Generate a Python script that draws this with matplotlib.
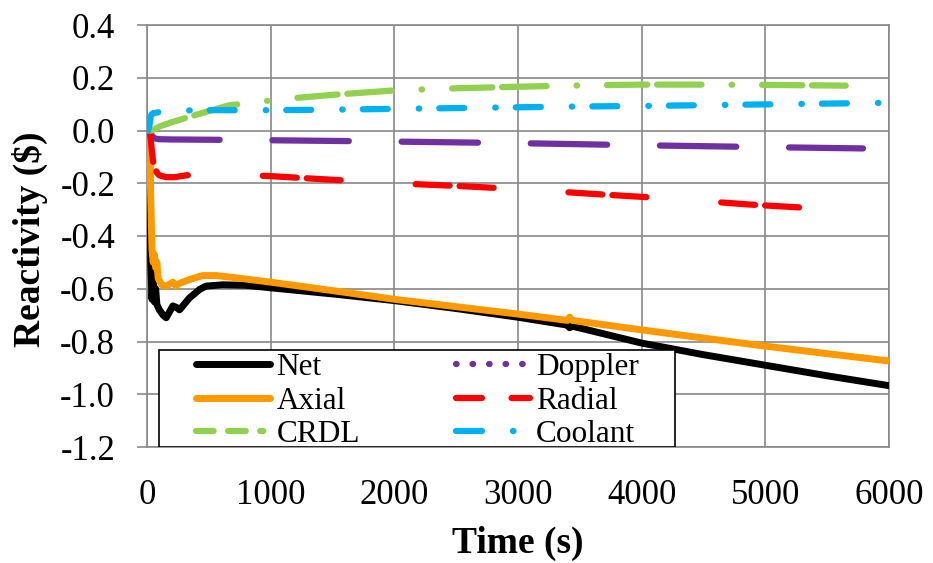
import matplotlib
matplotlib.use("Agg")
import matplotlib.pyplot as plt
from matplotlib.lines import Line2D
from matplotlib.patches import Rectangle

plt.rcParams['font.family'] = ['Liberation Serif', 'DejaVu Serif']
plt.rcParams['lines.scale_dashes'] = False

# ---------------- data ----------------
t_net = [0, 20, 30, 40, 50, 60, 70, 80, 100, 130, 155, 209, 235, 263, 343, 424, 477, 611,
         800, 1013, 1550, 2000, 2500, 3000, 3400, 3417, 3440, 4000, 4500, 5000, 5500, 6000]
net = [0.0, -0.02, -0.50, -0.64, -0.55, -0.65, -0.60, -0.66, -0.68, -0.70, -0.71, -0.665, -0.67,
       -0.68, -0.635, -0.603, -0.59, -0.585, -0.587, -0.597, -0.622, -0.645, -0.675, -0.708,
       -0.738, -0.748, -0.742, -0.806, -0.85, -0.89, -0.93, -0.9675]

t_axial = [0, 20, 30, 40, 50, 60, 70, 80, 90, 100, 120, 155, 210, 236, 260, 343, 450, 560,
           745, 1000, 1500, 2000, 2500, 3000, 3400, 3417, 3440, 4000, 4500, 5000, 5500, 6000]
axial = [0.0, -0.02, -0.25, -0.45, -0.50, -0.47, -0.52, -0.50, -0.56, -0.57, -0.585, -0.59,
         -0.575, -0.59, -0.58, -0.565, -0.55, -0.55, -0.56, -0.575, -0.607, -0.64, -0.668,
         -0.696, -0.72, -0.708, -0.72, -0.756, -0.787, -0.8175, -0.846, -0.874]

t_doppler = [0, 20, 40, 60, 100, 200, 500, 1000, 2000, 3000, 4000, 5000, 5790]
doppler = [0.0, -0.005, -0.02, -0.03, -0.033, -0.034, -0.035, -0.037, -0.042, -0.048, -0.056,
           -0.063, -0.068]

t_radial = [0, 20, 30, 40, 50, 62, 80, 100, 155, 222, 316, 477, 700, 1000, 1430, 2000, 2500,
            3000, 3660, 4190, 4850, 5580]
radial = [0.0, 0.0, -0.03, -0.08, -0.12, -0.14, -0.16, -0.17, -0.177, -0.177, -0.17, -0.165,
          -0.167, -0.173, -0.185, -0.20, -0.21, -0.222, -0.242, -0.257, -0.28, -0.30]

t_crdl = [0, 40, 60, 100, 190, 400, 660, 930, 1070, 1370, 1550, 2000, 2500, 3000, 3500, 4000,
          4500, 5000, 5650]
crdl = [0.0, 0.0, 0.005, 0.015, 0.03, 0.06, 0.095, 0.11, 0.118, 0.13, 0.137, 0.152, 0.16,
        0.166, 0.171, 0.174, 0.174, 0.173, 0.17]

t_coolant = [0, 10, 20, 30, 40, 50, 60, 80, 100, 150, 300, 500, 1000, 1500, 2000, 2500, 3000,
             3500, 4000, 4500, 5000, 5500, 6000]
coolant = [0.0, 0.0, 0.02, 0.055, 0.062, 0.066, 0.066, 0.068, 0.07, 0.073, 0.076, 0.077, 0.077,
           0.079, 0.082, 0.085, 0.088, 0.091, 0.093, 0.096, 0.099, 0.102, 0.105]

labels = ['Net', 'Doppler', 'Axial', 'Radial', 'CRDL', 'Coolant']
x_ticks = [0, 1000, 2000, 3000, 4000, 5000, 6000]
y_ticks = [0.4, 0.2, 0.0, -0.2, -0.4, -0.6, -0.8, -1.0, -1.2]

# ---------------- styles ----------------
C_NET, C_AX, C_DOP, C_RAD, C_CRDL, C_COOL = '#000000', '#FF9900', '#7030A0', '#FF0000', '#92D050', '#00B0F0'
GRID = '#898989'
LW_SOLID = 5.0
LW_DASH = 4.5

fig = plt.figure(figsize=(9.33, 5.63), dpi=100)
ax = fig.add_axes([147/933, 1-447/563, 742/933, 422/563])

ax.plot(t_net, net, color=C_NET, lw=LW_SOLID, solid_joinstyle='round', solid_capstyle='round', zorder=3)
ax.plot(t_doppler, doppler, color=C_DOP, lw=LW_DASH, dashes=(55, 38), dash_capstyle='round', zorder=3)
ax.plot(t_axial, axial, color=C_AX, lw=LW_SOLID, solid_joinstyle='round', solid_capstyle='round', zorder=3)
ax.plot(t_radial, radial, color=C_RAD, lw=LW_DASH, dashes=(24.5, 7.2, 24.5, 54), dash_capstyle='round', zorder=3)
ax.plot(t_crdl, crdl, color=C_CRDL, lw=LW_DASH, dashes=(29, 7, 32, 21.6, 0.4, 21.6), dash_capstyle='round', zorder=3)
ax.plot(t_coolant, coolant, color=C_COOL, lw=LW_DASH, dashes=(18, 22.3, 0.4, 14.4), dash_capstyle='round', zorder=3)

ax.set_xlim(0, 6000)
ax.set_ylim(-1.2, 0.4)
ax.set_xticks(x_ticks)
ax.set_yticks(y_ticks)
ax.set_xticklabels([str(v) for v in x_ticks])
ax.set_yticklabels([f'{v:.1f}' for v in y_ticks])
ax.grid(True, color=GRID, lw=1.2, zorder=0)
ax.set_axisbelow(True)
for s in ax.spines.values():
    s.set_color(GRID)
    s.set_linewidth(1.2)
ax.tick_params(axis='y', direction='out', length=7, width=1.2, color=GRID, pad=16, labelsize=25)
ax.tick_params(axis='x', length=0, pad=23, labelsize=25)

ax.set_xlabel('Time (s)', fontsize=27, fontweight='bold')
ax.xaxis.label.set_va('center')
ax.xaxis.set_label_coords(0.5, (447-543)/422)
ax.set_ylabel('Reactivity ($)', fontsize=27, fontweight='bold')
ax.yaxis.label.set_va('center')
ax.yaxis.set_label_coords((30-147)/742, 0.493)

# legend frame
rect = Rectangle((0.0155, 0.0), 0.7116-0.0155, 0.2299, transform=ax.transAxes,
                 facecolor='white', edgecolor='black', lw=1.2, zorder=5)
ax.add_patch(rect)

h_net = Line2D([], [], color=C_NET, lw=LW_SOLID, solid_capstyle='round')
h_ax = Line2D([], [], color=C_AX, lw=LW_SOLID, solid_capstyle='round')
h_crdl = Line2D([], [], color=C_CRDL, lw=LW_DASH, dashes=(12.7, 10.4, 12.7, 10.4, 2.2, 10.4), dash_capstyle='round')
h_dop = Line2D([], [], color=C_DOP, lw=LW_DASH, dashes=(0.4, 11.5), dash_capstyle='round')
h_rad = Line2D([], [], color=C_RAD, lw=LW_DASH, dashes=(18.7, 21.3), dash_capstyle='round')
h_cool = Line2D([], [], color=C_COOL, lw=LW_DASH, dashes=(18.7, 22.3, 0.4, 22.3), dash_capstyle='round')

leg = ax.legend([h_net, h_ax, h_crdl, h_dop, h_rad, h_cool],
                [labels[0], labels[2], labels[4], labels[1], labels[3], labels[5]],
                ncol=2, loc='center', bbox_to_anchor=(0.3646, 0.109), frameon=False,
                fontsize=22.5, handlelength=2.37, handletextpad=0.19, columnspacing=3.07,
                labelspacing=0.15, borderpad=0.0, borderaxespad=0.0)
leg.set_zorder(6)

fig.savefig('out.png', dpi=100)
